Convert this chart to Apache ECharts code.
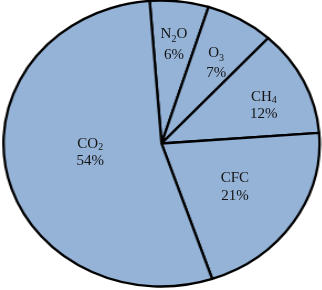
<!DOCTYPE html>
<html>
<head>
<meta charset="utf-8">
<script src="https://cdn.jsdelivr.net/npm/echarts@6/dist/echarts.min.js"></script>
<style>
html,body{margin:0;padding:0;background:#fff;}
#wrap{position:relative;width:322px;height:290px;overflow:hidden;}
#pie{position:absolute;left:0;top:0;width:291.4px;height:290px;transform:scaleX(1.105);transform-origin:0 0;}
#lab{position:absolute;left:0;top:0;width:322px;height:290px;}
</style>
</head>
<body>
<div id="wrap"><div id="pie"></div><div id="lab"></div></div>
<script>
// Data (clockwise from top)
const gases = ['N{s|2}O', 'O{s|3}', 'CH{s|4}', 'CFC', 'CO{s|2}'];
const shares = [6, 7, 12, 21, 54];

// Style / layout settings
const SX = 1.105;              // horizontal stretch of the ellipse
const CX = 161.5, CY = 143.5;  // centre in page pixels
const R = 143;
const START = 94.3;
const labelRadiusFactor = [1.336, 1.268, 1.345, 1.07, 0.873];
const labelAngleNudge = [0, 1.7, 3.5, 0, 3.8];   // degrees, clockwise
const labelLineHeight = [21, 20, 17, 18, 17];

const data = gases.map((g, i) => ({
  name: g,
  value: shares[i],
  label: { lineHeight: labelLineHeight[i] }
}));

const pieChart = echarts.init(document.getElementById('pie'), null, { renderer: 'canvas' });
pieChart.setOption({
  animation: false,
  series: [{
    type: 'pie',
    center: [CX / SX, CY],
    radius: [0, R],
    startAngle: START,
    clockwise: true,
    avoidLabelOverlap: false,
    label: { show: false },
    labelLine: { show: false },
    itemStyle: { color: '#95b3d7', borderColor: '#000', borderWidth: 2.3 },
    emphasis: { disabled: true },
    data: gases.map((g, i) => ({ name: g, value: shares[i] }))
  }]
});

const labChart = echarts.init(document.getElementById('lab'), null, { renderer: 'canvas' });
labChart.setOption({
  animation: false,
  series: [{
    type: 'pie',
    center: [CX, CY],
    radius: [0, R],
    startAngle: START,
    clockwise: true,
    avoidLabelOverlap: false,
    itemStyle: { color: 'rgba(0,0,0,0)', borderWidth: 0 },
    emphasis: { disabled: true },
    labelLine: { show: false },
    label: {
      show: true,
      position: 'inside',
      formatter: p => p.name + '\n' + p.value + '%',
      fontFamily: '"Liberation Serif", "Times New Roman", serif',
      fontSize: 15,
      lineHeight: 19,
      color: '#141414',
      align: 'center',
      rich: {
        s: { fontSize: 10, fontFamily: '"Liberation Serif", serif', color: '#141414', verticalAlign: 'bottom', padding: [6, 0, 0, 0] }
      }
    },
    labelLayout: function (p) {
      const r = p.labelRect;
      const lx = r.x + r.width / 2, ly = r.y + r.height / 2;
      const i = p.dataIndex;
      const vx = lx - CX, vy = ly - CY;
      const dist = Math.sqrt(vx * vx + vy * vy) * labelRadiusFactor[i];
      const a = Math.atan2(vx, -vy) + labelAngleNudge[i] * Math.PI / 180;
      const nx = CX + dist * Math.sin(a) * SX;
      const ny = CY - dist * Math.cos(a);
      return { dx: nx - lx, dy: ny - ly };
    },
    data: data
  }]
});
</script>
</body>
</html>
